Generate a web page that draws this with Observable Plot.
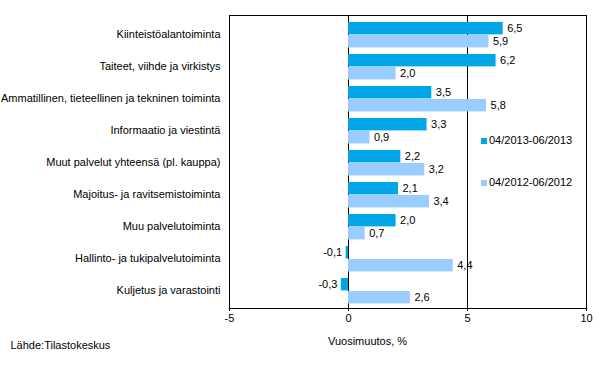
<!DOCTYPE html>
<html><head><meta charset="utf-8">
<script src="https://cdn.jsdelivr.net/npm/d3@7"></script>
<script src="https://cdn.jsdelivr.net/npm/@observablehq/plot@0.6"></script>
<style>
body{margin:0;background:#fff;font-family:Arial,"Liberation Sans",sans-serif;}
#wrap{position:relative;width:600px;height:373px;}
.leg{position:absolute;font-size:11px;color:#000;white-space:nowrap;}
.leg span{display:inline-block;width:6px;height:6px;margin-right:2px;vertical-align:0px;}
</style></head><body>
<div id="wrap"></div>
<script>
const categories = ["Kiinteistöalantoiminta","Taiteet, viihde ja virkistys","Ammatillinen, tieteellinen ja tekninen toiminta","Informaatio ja viestintä","Muut palvelut yhteensä (pl. kauppa)","Majoitus- ja ravitsemistoiminta","Muu palvelutoiminta","Hallinto- ja tukipalvelutoiminta","Kuljetus ja varastointi"];
const series2013 = [6.5,6.2,3.5,3.3,2.2,2.1,2.0,-0.1,-0.3];
const series2012 = [5.9,2.0,5.8,0.9,3.2,3.4,0.7,4.4,2.6];
const seriesNames = ["04/2013-06/2013","04/2012-06/2012"];
const colors = ["#00a6e6","#99ccff"];
const xTicks = [-5,0,5,10];

const d13 = categories.map((c,i)=>({cat:c,v:series2013[i]}));
const d12 = categories.map((c,i)=>({cat:c,v:series2012[i]}));
const fmt = v => v.toFixed(1).replace(".", ",");

const plot = Plot.plot({
  width:600, height:373,
  marginLeft:229, marginRight:14, marginTop:15, marginBottom:65,
  style:{fontFamily:"Arial, 'Liberation Sans', sans-serif", fontSize:"11px", color:"#000", background:"#fff"},
  x:{domain:[-5,10], ticks:xTicks, tickFormat:d=>String(d), tickSize:3, tickPadding:3, label:null},
  y:{domain:categories, padding:0, tickSize:0, tickPadding:9, label:null},
  marks:[
    Plot.ruleX([0,5],{stroke:"#000", strokeWidth:1}),
    Plot.barX(d13,{x:"v", y:"cat", fill:colors[0], insetTop:4, insetBottom:15.6}),
    Plot.barX(d12,{x:"v", y:"cat", fill:colors[1], insetTop:17, insetBottom:2.6}),
    Plot.text(d13.filter(d=>d.v>=0),{x:"v", y:"cat", text:d=>fmt(d.v), textAnchor:"start", dx:4, dy:-5.8}),
    Plot.text(d13.filter(d=>d.v<0),{x:"v", y:"cat", text:d=>fmt(d.v), textAnchor:"end", dx:-4, dy:-5.8}),
    Plot.text(d12,{x:"v", y:"cat", text:d=>fmt(d.v), textAnchor:"start", dx:4, dy:7.2}),
    Plot.frame({stroke:"#000", strokeWidth:1}),
    Plot.text(["Vuosimuutos, %"],{frameAnchor:"bottom", textAnchor:"start", dx:-80, dy:36}),
    Plot.text(["Lähde:Tilastokeskus"],{frameAnchor:"bottom-left", textAnchor:"start", dx:-219, dy:40})
  ]
});
const wrap = document.getElementById("wrap");
wrap.appendChild(plot);
const legTops = [134, 176];
seriesNames.forEach((n,i)=>{
  const d = document.createElement("div");
  d.className="leg";
  d.style.left="481px"; d.style.top=legTops[i]+"px";
  d.innerHTML = `<span style="background:${colors[i]}"></span>${n}`;
  wrap.appendChild(d);
});
</script>
</body></html>
